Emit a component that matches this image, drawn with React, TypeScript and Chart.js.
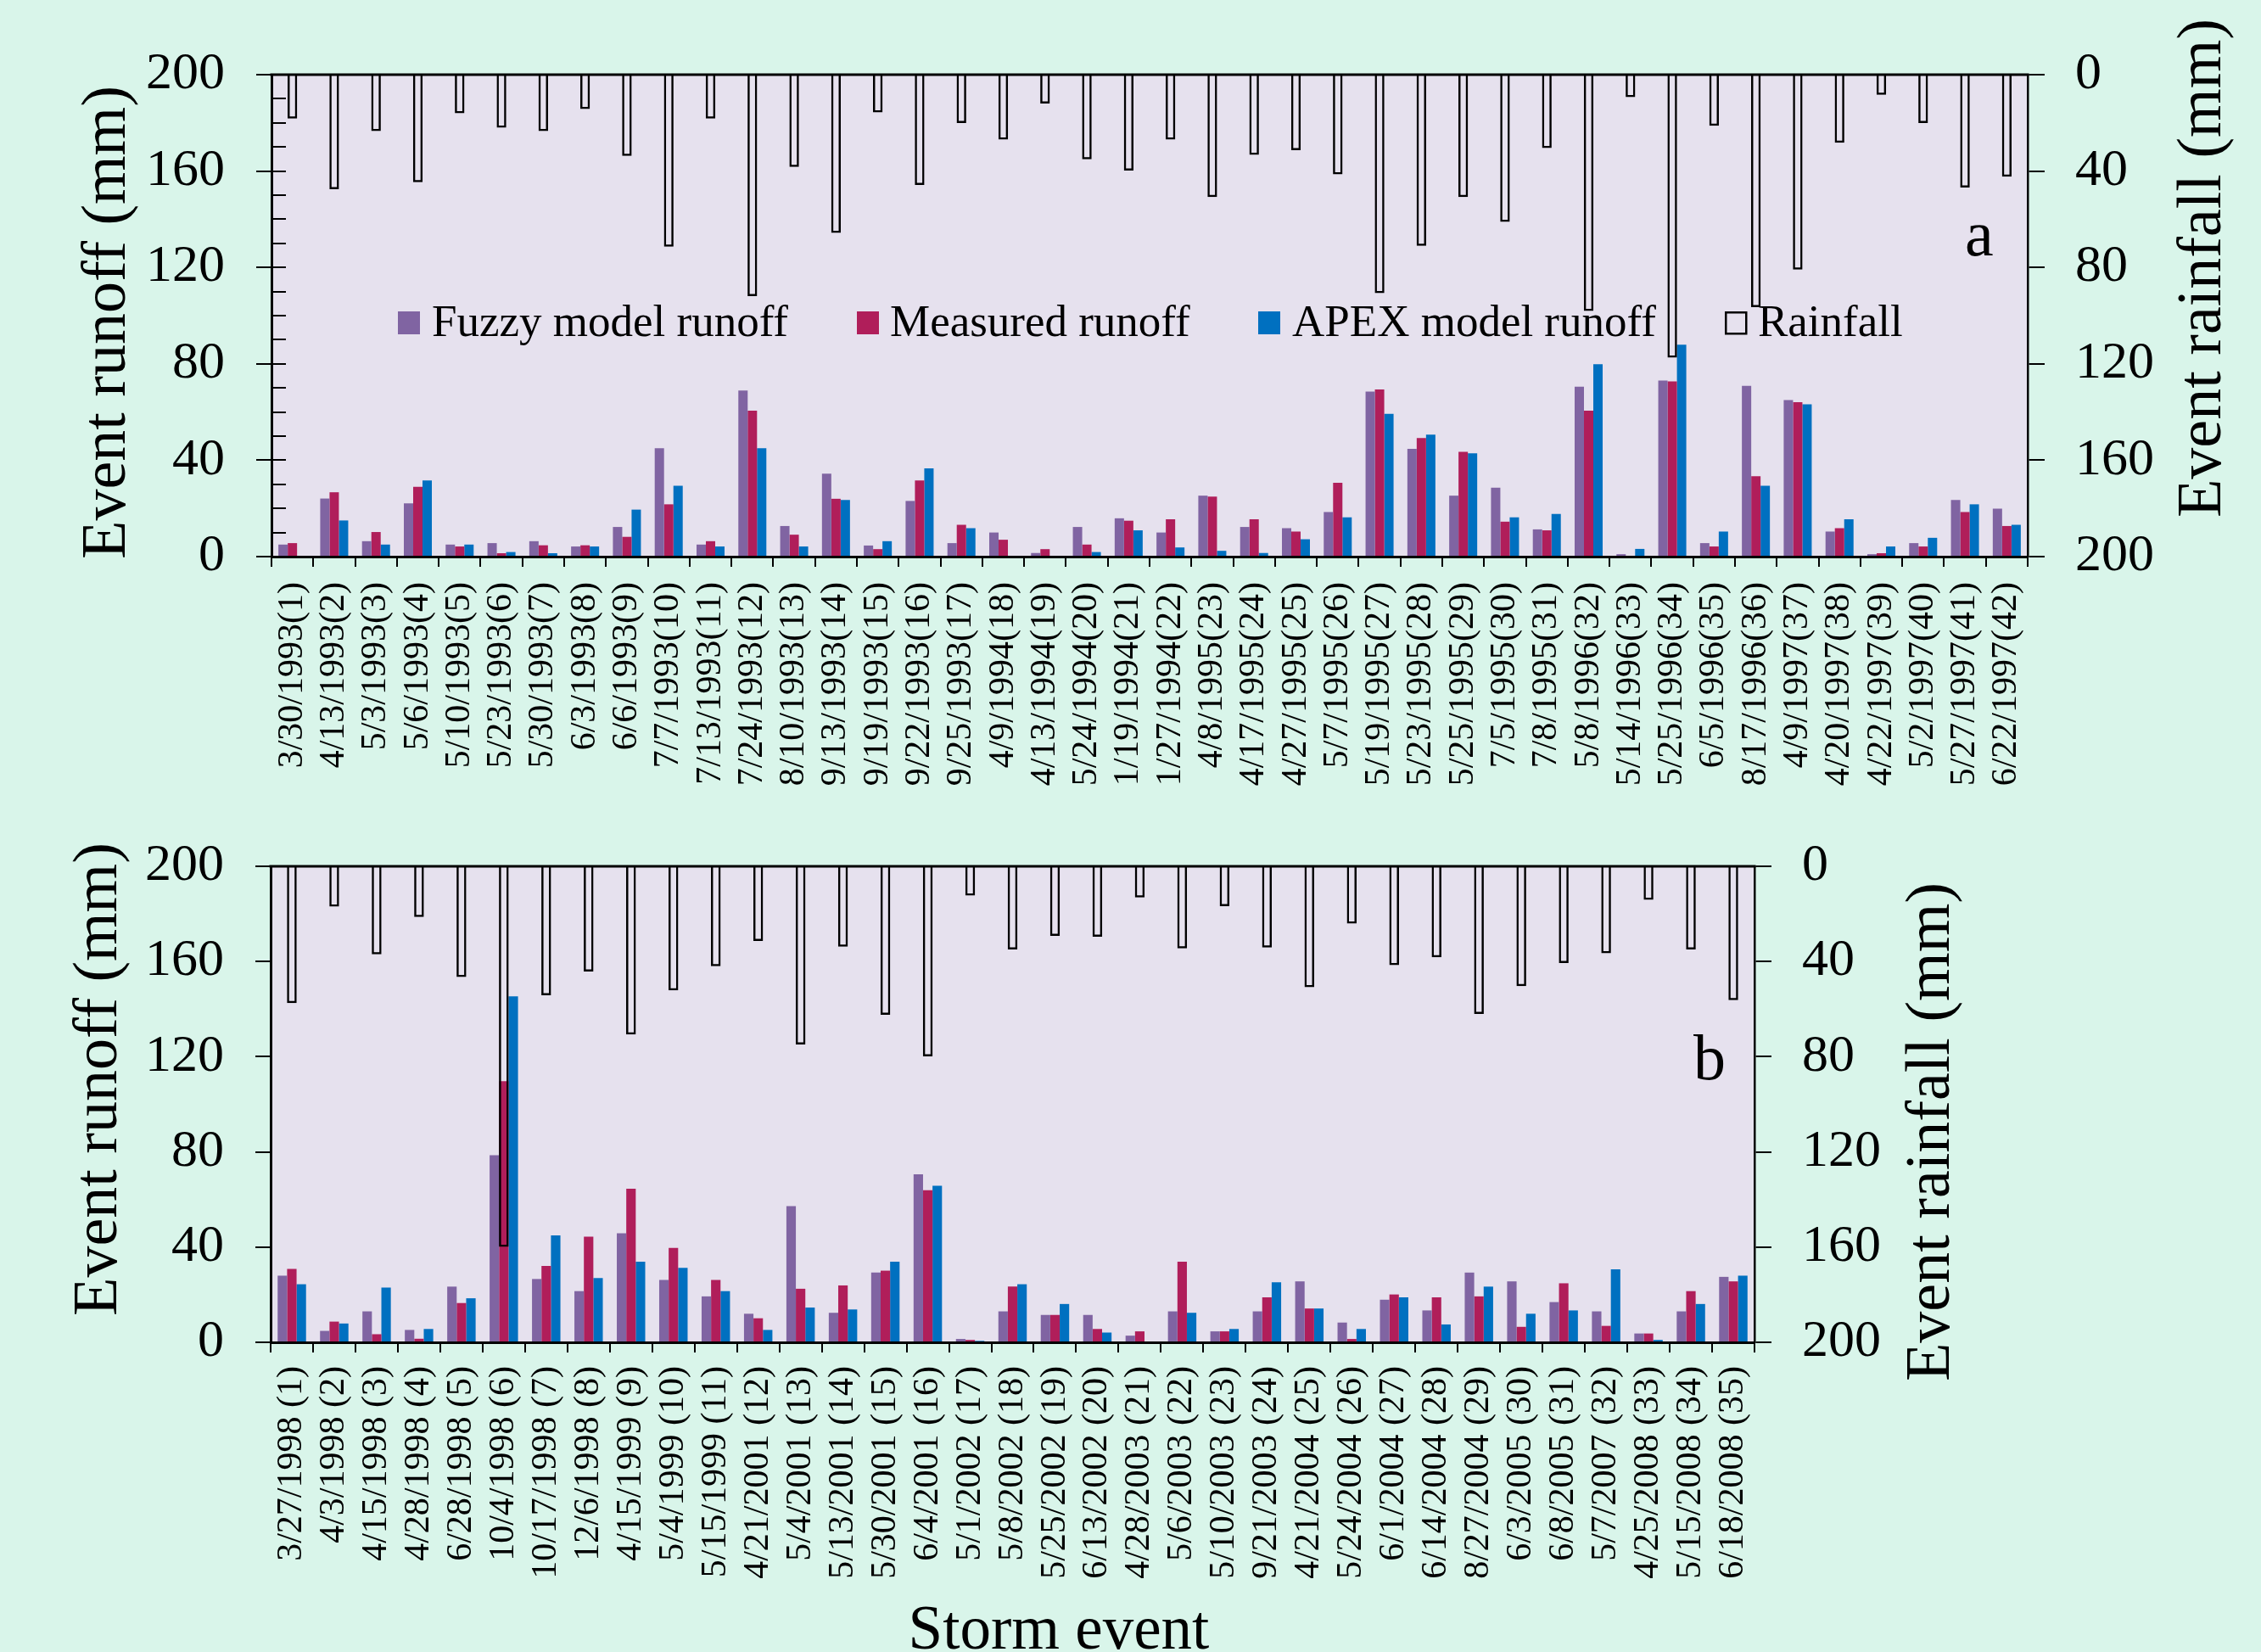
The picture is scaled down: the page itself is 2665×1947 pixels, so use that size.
import React, { useEffect, useRef } from 'react';
import { Chart, registerables } from 'chart.js';

Chart.register(...registerables);

const SERIF = '"Liberation Serif", "Times New Roman", Times, serif';

// ---------- Panel a (1993-1997) ----------
const labelsA = [
  '3/30/1993(1)', '4/13/1993(2)', '5/3/1993(3)', '5/6/1993(4)', '5/10/1993(5)', '5/23/1993(6)',
  '5/30/1993(7)', '6/3/1993(8)', '6/6/1993(9)', '7/7/1993(10)', '7/13/1993(11)', '7/24/1993(12)',
  '8/10/1993(13)', '9/13/1993(14)', '9/19/1993(15)', '9/22/1993(16)', '9/25/1993(17)', '4/9/1994(18)',
  '4/13/1994(19)', '5/24/1994(20)', '1/19/1994(21)', '1/27/1994(22)', '4/8/1995(23)', '4/17/1995(24)',
  '4/27/1995(25)', '5/7/1995(26)', '5/19/1995(27)', '5/23/1995(28)', '5/25/1995(29)', '7/5/1995(30)',
  '7/8/1995(31)', '5/8/1996(32)', '5/14/1996(33)', '5/25/1996(34)', '6/5/1996(35)', '8/17/1996(36)',
  '4/9/1997(37)', '4/20/1997(38)', '4/22/1997(39)', '5/2/1997(40)', '5/27/1997(41)', '6/22/1997(42)',
];
const fuzzyA = [
  5.0, 24.1, 6.4, 22.1, 5.0, 5.6, 6.4, 4.2, 12.3, 45.0,
  5.0, 68.9, 12.7, 34.4, 4.6, 23.1, 5.6, 10.0, 1.5, 12.3,
  15.9, 10.0, 25.3, 12.3, 11.8, 18.5, 68.5, 44.7, 25.3, 28.6,
  11.3, 70.5, 1.0, 73.1, 5.6, 70.9, 65.0, 10.4, 1.0, 5.6,
  23.5, 19.9,
];
const measuredA = [
  5.6, 26.7, 10.2, 29.0, 4.2, 1.4, 4.7, 4.7, 8.2, 21.7,
  6.4, 60.6, 9.1, 24.0, 3.1, 31.6, 13.2, 7.0, 3.1, 5.0,
  14.9, 15.5, 24.9, 15.5, 10.4, 30.6, 69.4, 49.2, 43.5, 14.5,
  10.9, 60.6, 0, 72.7, 4.2, 33.4, 64.1, 11.8, 1.4, 4.2,
  18.5, 12.7,
];
const apexA = [
  0, 15.0, 5.0, 31.6, 5.0, 1.9, 1.4, 4.2, 19.5, 29.4,
  4.2, 45.0, 4.2, 23.5, 6.4, 36.6, 11.8, 0, 0, 1.9,
  10.9, 3.8, 2.4, 1.5, 7.2, 16.3, 59.2, 50.6, 42.9, 16.3,
  17.7, 79.8, 3.2, 87.9, 10.4, 29.4, 63.2, 15.5, 4.2, 7.8,
  21.7, 13.2,
];
const rainA = [
  18.2, 47.5, 23.4, 44.6, 16.0, 22.0, 23.4, 14.3, 33.7, 71.4,
  18.2, 91.9, 38.3, 65.7, 15.7, 45.8, 20.1, 26.9, 12.0, 35.1,
  39.8, 26.9, 50.8, 33.3, 31.3, 41.4, 90.7, 71.0, 50.8, 61.1,
  30.5, 98.1, 9.3, 117.4, 21.2, 96.5, 80.9, 28.3, 8.4, 20.1,
  46.8, 42.3,
];

// ---------- Panel b (1998-2008) ----------
const labelsB = [
  '3/27/1998 (1)', '4/3/1998 (2)', '4/15/1998 (3)', '4/28/1998 (4)', '6/28/1998 (5)', '10/4/1998 (6)',
  '10/17/1998 (7)', '12/6/1998 (8)', '4/15/1999 (9)', '5/4/1999 (10)', '5/15/1999 (11)', '4/21/2001 (12)',
  '5/4/2001 (13)', '5/13/2001 (14)', '5/30/2001 (15)', '6/4/2001 (16)', '5/1/2002 (17)', '5/8/2002 (18)',
  '5/25/2002 (19)', '6/13/2002 (20)', '4/28/2003 (21)', '5/6/2003 (22)', '5/10/2003 (23)', '9/21/2003 (24)',
  '4/21/2004 (25)', '5/24/2004 (26)', '6/1/2004 (27)', '6/14/2004 (28)', '8/27/2004 (29)', '6/3/2005 (30)',
  '6/8/2005 (31)', '5/7/2007 (32)', '4/25/2008 (33)', '5/15/2008 (34)', '6/18/2008 (35)',
];
const fuzzyB = [
  28.0, 4.8, 13.0, 5.2, 23.4, 78.6, 26.6, 21.5, 45.8, 26.2,
  19.3, 12.0, 57.2, 12.4, 29.3, 70.6, 1.4, 13.0, 11.5, 11.5,
  2.8, 13.0, 4.6, 13.0, 25.6, 8.3, 17.9, 13.4, 29.3, 25.6,
  16.9, 13.0, 3.7, 13.0, 27.5,
];
const measuredB = [
  30.8, 8.7, 3.4, 1.5, 16.5, 109.7, 32.1, 44.4, 64.5, 39.7,
  26.2, 10.1, 22.5, 23.9, 30.1, 63.9, 1.0, 23.4, 11.5, 5.6,
  4.6, 33.9, 4.6, 18.9, 14.2, 1.4, 20.1, 18.9, 19.3, 6.5,
  24.8, 6.9, 3.7, 21.5, 25.6,
];
const apexB = [
  24.4, 7.9, 23.0, 5.6, 18.5, 145.4, 44.9, 27.0, 33.9, 31.3,
  21.5, 5.2, 14.6, 13.8, 33.9, 65.8, 0.6, 24.4, 16.1, 4.1,
  0, 12.4, 5.6, 25.2, 14.2, 5.6, 18.9, 7.5, 23.4, 12.0,
  13.4, 30.7, 1.0, 16.1, 28.0,
];
const rainB = [
  57.5, 16.9, 37.0, 21.3, 46.5, 159.9, 54.2, 44.2, 70.7, 52.1,
  42.0, 31.4, 74.9, 33.8, 62.4, 79.9, 12.3, 34.9, 29.2, 29.6,
  13.1, 34.5, 16.8, 34.1, 50.8, 24.1, 41.5, 38.2, 62.0, 50.4,
  40.6, 36.5, 14.1, 34.9, 56.2,
];

const seriesNames = ['Fuzzy model runoff', 'Measured runoff', 'APEX model runoff', 'Rainfall'];
const seriesColors = ['#8064a2', '#b01e5a', '#0070c0'];
const axisMin = 0;
const axisMax = 200;
const axisStep = 40;
const minorStep = 10;
const leftAxisTitle = 'Event runoff (mm)';
const rightAxisTitle = 'Event rainfall (mm)';
const xAxisTitle = 'Storm event';

const PAGE_BG = '#d9f5ea';
const PLOT_BG = '#e6e1ee';

type Spec = {
  top: number;
  height: number;
  padTop: number;
  leftWidth: number;
  rightWidth: number;
  xHeight: number;
  xLabelPad: number;
  labels: string[];
  fuzzy: number[];
  measured: number[];
  apex: number[];
  rain: number[];
  leftTitle: { x: number; y: number };
  rightTitle: { x: number; y: number };
  letter: { text: string; x: number; y: number };
  minorTicks: boolean;
  legend: boolean;
  xTitle?: { x: number; y: number };
};

function rotatedText(ctx: CanvasRenderingContext2D, text: string, x: number, y: number, font: string) {
  ctx.save();
  ctx.translate(x, y);
  ctx.rotate(-Math.PI / 2);
  ctx.font = font;
  ctx.fillStyle = '#000';
  ctx.textAlign = 'center';
  ctx.textBaseline = 'alphabetic';
  ctx.fillText(text, 0, 0);
  ctx.restore();
}

function decoPlugin(p: Spec) {
  return {
    id: 'deco',
    beforeDraw(chart: any) {
      const { ctx, chartArea: a } = chart;
      ctx.save();
      ctx.fillStyle = PLOT_BG;
      ctx.fillRect(a.left, a.top, a.right - a.left, a.bottom - a.top);
      ctx.restore();
    },
    afterDraw(chart: any) {
      const { ctx, chartArea: a } = chart;
      const oy = p.top;
      ctx.save();
      // top frame line
      ctx.strokeStyle = '#000';
      ctx.lineWidth = 3;
      ctx.beginPath();
      ctx.moveTo(a.left - 1.5, a.top);
      ctx.lineTo(a.right + 1.5, a.top);
      ctx.stroke();
      // inside minor ticks on left axis
      if (p.minorTicks) {
        const ys = chart.scales.y;
        ctx.lineWidth = 2;
        for (let v = axisMin; v <= axisMax; v += minorStep) {
          const py = Math.round(ys.getPixelForValue(v));
          ctx.beginPath();
          ctx.moveTo(a.left, py);
          ctx.lineTo(a.left + 17, py);
          ctx.stroke();
        }
      }
      // axis titles
      const titleFont = `74px ${SERIF}`;
      rotatedText(ctx, leftAxisTitle, p.leftTitle.x, p.leftTitle.y - oy, titleFont);
      rotatedText(ctx, rightAxisTitle, p.rightTitle.x, p.rightTitle.y - oy, titleFont);
      if (p.xTitle) {
        ctx.font = `73px ${SERIF}`;
        ctx.fillStyle = '#000';
        ctx.textAlign = 'center';
        ctx.textBaseline = 'alphabetic';
        ctx.fillText(xAxisTitle, p.xTitle.x, p.xTitle.y - oy);
      }
      // panel letter
      ctx.font = `76px ${SERIF}`;
      ctx.fillStyle = '#000';
      ctx.textAlign = 'left';
      ctx.textBaseline = 'alphabetic';
      ctx.fillText(p.letter.text, p.letter.x, p.letter.y - oy);
      // legend
      if (p.legend) {
        const boxX = [469, 1010, 1483, 2033];
        const textX = [509, 1049, 1523, 2072];
        const boxY = 367 - oy;
        const base = 396 - oy;
        ctx.font = `53px ${SERIF}`;
        for (let i = 0; i < 4; i++) {
          if (i < 3) {
            ctx.fillStyle = seriesColors[i];
            ctx.fillRect(boxX[i], boxY, 26, 27);
          } else {
            ctx.strokeStyle = '#000';
            ctx.lineWidth = 2.5;
            ctx.strokeRect(boxX[i] + 1.25, boxY + 1.25, 24, 25);
          }
          ctx.fillStyle = '#000';
          ctx.fillText(seriesNames[i], textX[i], base);
        }
      }
      ctx.restore();
    },
  };
}

function buildConfig(p: Spec): any {
  const tickFont = { family: SERIF, size: 62 };
  const fixVertical = (w: number) => (s: any) => {
    s.width = w;
    s.paddingTop = 0;
    s.paddingBottom = 0;
  };
  return {
    type: 'bar',
    data: {
      labels: p.labels,
      datasets: [
        { label: seriesNames[0], data: p.fuzzy, backgroundColor: seriesColors[0], yAxisID: 'y', categoryPercentage: 0.67, barPercentage: 1, order: 1 },
        { label: seriesNames[1], data: p.measured, backgroundColor: seriesColors[1], yAxisID: 'y', categoryPercentage: 0.67, barPercentage: 1, order: 1 },
        { label: seriesNames[2], data: p.apex, backgroundColor: seriesColors[2], yAxisID: 'y', categoryPercentage: 0.67, barPercentage: 1, order: 1 },
        {
          label: seriesNames[3], data: p.rain, yAxisID: 'y2', grouped: false,
          backgroundColor: 'rgba(0,0,0,0)', borderColor: '#000', borderWidth: 2.5,
          categoryPercentage: 1, barPercentage: 0.23, order: 0,
        },
      ],
    },
    options: {
      responsive: false,
      animation: false,
      events: [],
      layout: { padding: { top: p.padTop, left: 0, right: 0, bottom: 0 } },
      plugins: { legend: { display: false }, tooltip: { enabled: false }, title: { display: false } },
      scales: {
        x: {
          type: 'category',
          offset: true,
          ticks: {
            autoSkip: false, minRotation: 90, maxRotation: 90, padding: p.xLabelPad,
            color: '#000', font: { family: SERIF, size: 42 },
          },
          grid: { offset: true, drawOnChartArea: false, drawTicks: true, tickLength: 12, color: '#000', lineWidth: 2 },
          border: { display: true, color: '#000', width: 3 },
          afterFit: (s: any) => { s.height = p.xHeight; s.paddingLeft = 0; s.paddingRight = 0; },
        },
        y: {
          type: 'linear', position: 'left', min: axisMin, max: axisMax,
          ticks: { stepSize: axisStep, padding: 37, color: '#000', font: tickFont },
          grid: { drawOnChartArea: false, tickLength: 18, color: '#000', lineWidth: 2 },
          border: { display: true, color: '#000', width: 3 },
          afterFit: fixVertical(p.leftWidth),
        },
        y2: {
          type: 'linear', position: 'right', reverse: true, min: axisMin, max: axisMax,
          ticks: { stepSize: axisStep, padding: 36, color: '#000', font: tickFont },
          grid: { drawOnChartArea: false, tickLength: 20, color: '#000', lineWidth: 2 },
          border: { display: true, color: '#000', width: 2.5 },
          afterFit: fixVertical(p.rightWidth),
        },
      },
    },
    plugins: [decoPlugin(p)],
  };
}

const specA: Spec = {
  top: 0, height: 960, padTop: 88, leftWidth: 320, rightWidth: 275, xHeight: 304, xLabelPad: 18,
  labels: labelsA, fuzzy: fuzzyA, measured: measuredA, apex: apexA, rain: rainA,
  leftTitle: { x: 147, y: 380 }, rightTitle: { x: 2617, y: 316 },
  letter: { text: 'a', x: 2316, y: 301 }, minorTicks: true, legend: true,
};

const specB: Spec = {
  top: 960, height: 987, padTop: 61, leftWidth: 319, rightWidth: 597, xHeight: 365, xLabelPad: 16,
  labels: labelsB, fuzzy: fuzzyB, measured: measuredB, apex: apexB, rain: rainB,
  leftTitle: { x: 137, y: 1272 }, rightTitle: { x: 2297, y: 1334 },
  letter: { text: 'b', x: 1996, y: 1272 }, minorTicks: false, legend: false,
  xTitle: { x: 1248, y: 1943 },
};

export default function App() {
  const refA = useRef<HTMLCanvasElement | null>(null);
  const refB = useRef<HTMLCanvasElement | null>(null);

  useEffect(() => {
    Chart.defaults.font.family = SERIF;
    Chart.defaults.color = '#000';
    const charts: Chart[] = [];
    if (refA.current) charts.push(new Chart(refA.current, buildConfig(specA)));
    if (refB.current) charts.push(new Chart(refB.current, buildConfig(specB)));
    return () => { charts.forEach((c) => c.destroy()); };
  }, []);

  return (
    <div style={{ position: 'absolute', left: 0, top: 0, width: 2665, height: 1947, background: PAGE_BG, overflow: 'hidden' }}>
      <canvas ref={refA} width={2665} height={specA.height}
        style={{ position: 'absolute', left: 0, top: specA.top, width: 2665, height: specA.height }} />
      <canvas ref={refB} width={2665} height={specB.height}
        style={{ position: 'absolute', left: 0, top: specB.top, width: 2665, height: specB.height }} />
    </div>
  );
}
